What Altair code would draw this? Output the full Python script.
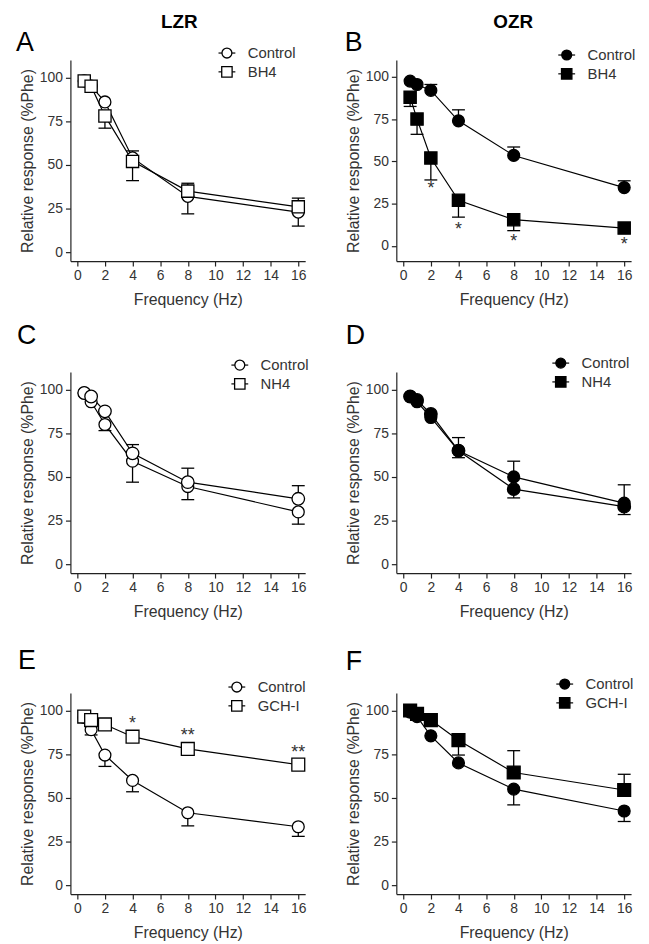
import altair as alt
import pandas as pd
import numpy as np

FONT = "Liberation Sans"
TXT = "#333333"

freq = [0.5, 1, 2, 4, 8, 16]
x_ticks = [0, 2, 4, 6, 8, 10, 12, 14, 16]
y_ticks = [0, 25, 50, 75, 100]

# Panel A  (LZR, BH4)
a_ctrl = [98, 95, 86, 54, 32, 23]
a_ctrl_err = [None, None, None, 58, 22, 15]
a_trt = [98, 95, 78, 52, 35, 26]
a_trt_err = [None, None, 71, 41, 39.5, 31]

# Panel B  (OZR, BH4)
b_ctrl = [97.5, 95.5, 92, 74, 53.5, 34.5]
b_ctrl_err = [None, None, 95.5, 80.5, 58.5, 38.5]
b_trt = [88, 75, 52, 27, 15.5, 10.5]
b_trt_err = [82.5, 66, 39, 17, 9, None]
b_star_f = [2, 4, 8, 16]
b_star_y = [36.5, 12, 5, 3.3]
b_star_t = ["*", "*", "*", "*"]

# Panel C  (LZR, NH4)
c_ctrl = [98, 93, 80, 59, 44.5, 30]
c_ctrl_err = [None, None, 76.5, 47, 37, 23]
c_trt = [98, 96, 87.5, 63.5, 47, 37.5]
c_trt_err = [None, None, None, 68.5, 55, 45]

# Panel D  (OZR, NH4)
d_ctrl = [96, 93, 84, 65, 50, 35]
d_ctrl_err = [None, None, None, 72.5, 59, 45.5]
d_trt = [96, 94, 86, 65, 43, 33]
d_trt_err = [None, None, None, 61, 38, 28.5]

# Panel E  (LZR, GCH-I)
e_ctrl = [96, 89, 74.5, 60, 41.5, 33.5]
e_ctrl_err = [None, 86, 68, 53.5, 34, 28]
e_trt = [96.5, 94.5, 92, 85, 78, 69]
e_trt_err = [None, None, None, None, None, None]
e_star_f = [4, 8, 16]
e_star_y = [94.8, 88, 78.7]
e_star_t = ["*", "**", "**"]

# Panel F  (OZR, GCH-I)
f_ctrl = [99, 96.5, 85.5, 70, 55, 42.5]
f_ctrl_err = [None, None, None, None, 46, 36.5]
f_trt = [100, 98, 94.5, 83, 64.5, 54.5]
f_trt_err = [None, None, None, 74.5, 77, 63.5]

W, H = 237, 203


def nan(v):
    return np.nan if v is None else v


def legend_layers(names, fill, cx, cy0, yoff):
    out = []
    shapes = ["circle", "square"]
    sizes = [100, 110]
    for i, name in enumerate(names):
        cy = cy0 + 19 * i + yoff
        one = alt.Chart(pd.DataFrame({"t": [name]}))
        out.append(one.mark_rule(color="black", strokeWidth=1.2).encode(
            x=alt.value(cx - 8.5), x2=alt.value(cx + 8.5), y=alt.value(cy)))
        out.append(one.mark_point(filled=True, fill=fill, stroke="black", strokeWidth=1.3,
                                  opacity=1, shape=shapes[i], size=sizes[i]).encode(
            x=alt.value(cx), y=alt.value(cy)))
        out.append(one.mark_text(font=FONT, fontSize=15, color=TXT, align="left",
                                 baseline="middle").encode(
            text="t:N", x=alt.value(cx + 21), y=alt.value(cy)))
    return out


def panel(letter, letter_x, letter_y, header, header_x, trt_name, filled,
          ctrl, ctrl_err, trt, trt_err, ymin, leg_x, leg_y, extra=0,
          star_f=None, star_y=None, star_t=None):
    df = pd.DataFrame({
        "freq": freq * 2,
        "group": ["Control"] * 6 + [trt_name] * 6,
        "mean": ctrl + trt,
        "err": [nan(v) for v in ctrl_err + trt_err],
    })
    fill = "black" if filled else "white"
    xs = alt.Scale(domain=[-0.5, 16.5], nice=False, zero=False)
    ys = alt.Scale(domain=[ymin, 110], nice=False, zero=False, range=[H + extra, extra])
    xaxis = alt.Axis(values=x_ticks, title="Frequency (Hz)", titlePadding=9,
                     labelFlush=False, format="d")
    yaxis = alt.Axis(values=y_ticks, title="Relative response (%Phe)", titlePadding=4,
                     labelFlush=False, format="d")
    X = alt.X("freq:Q", scale=xs, axis=xaxis)
    Ym = alt.Y("mean:Q", scale=ys, axis=yaxis)
    Ye = alt.Y("err:Q", scale=ys, axis=yaxis)

    base = alt.Chart(df)
    errs = base.transform_filter("isValid(datum.err)")
    rules = errs.mark_rule(color="black", strokeWidth=1.3).encode(x=X, y=Ym, y2="err:Q")
    caps = errs.mark_tick(color="black", orient="horizontal", size=13, thickness=1.3,
                          opacity=1).encode(x=X, y=Ye)
    lines = base.mark_line(color="black", strokeWidth=1.2).encode(x=X, y=Ym, detail="group:N")
    pts = base.mark_point(filled=True, fill=fill, stroke="black", strokeWidth=1.3,
                          opacity=1).encode(
        x=X, y=Ym,
        shape=alt.Shape("group:N", scale=alt.Scale(domain=["Control", trt_name],
                                                   range=["circle", "square"]), legend=None),
        size=alt.Size("group:N", scale=alt.Scale(domain=["Control", trt_name],
                                                 range=[144, 169]), legend=None),
    )
    layers = [rules, caps, lines, pts]
    if star_f is not None:
        sdf = pd.DataFrame({"freq": star_f, "err": star_y, "t": star_t})
        stars = alt.Chart(sdf).mark_text(font=FONT, fontSize=18, color=TXT,
                                         baseline="middle", dy=5).encode(
            x=X, y=Ye, text="t:N")
        layers.append(stars)
    layers += legend_layers(["Control", trt_name], fill, leg_x, leg_y, extra)
    ldf = pd.DataFrame({"t": [letter]})
    lab = alt.Chart(ldf).mark_text(font=FONT, fontSize=27, color="black", align="left",
                                   baseline="alphabetic").encode(
        text="t:N", x=alt.value(letter_x), y=alt.value(letter_y + extra))
    layers.append(lab)
    if header is not None:
        hdf = pd.DataFrame({"t": [header]})
        hd = alt.Chart(hdf).mark_text(font=FONT, fontSize=19, fontWeight="bold",
                                      color="black", align="center",
                                      baseline="middle").encode(
            text="t:N", x=alt.value(header_x), y=alt.value(-38 + extra))
        layers.append(hd)
    return alt.layer(*layers).properties(width=W, height=H + extra)


pA = panel("A", -55, -9, "LZR", 110, "BH4", False, a_ctrl, a_ctrl_err, a_trt, a_trt_err,
           -5, 158, -7)
pB = panel("B", -52, -9, "OZR", 118, "BH4", True, b_ctrl, b_ctrl_err, b_trt, b_trt_err,
           -9, 172, -5, 0, b_star_f, b_star_y, b_star_t)
pC = panel("C", -54, -28, None, 0, "NH4", False, c_ctrl, c_ctrl_err, c_trt, c_trt_err,
           -5, 171, -7)
pD = panel("D", -51, -28, None, 0, "NH4", True, d_ctrl, d_ctrl_err, d_trt, d_trt_err,
           -5, 166, -9)
pE = panel("E", -53, -24, None, 0, "GCH-I", False, e_ctrl, e_ctrl_err, e_trt, e_trt_err,
           -5, 168, -6, 9, e_star_f, e_star_y, e_star_t)
pF = panel("F", -51, -23, None, 0, "GCH-I", True, f_ctrl, f_ctrl_err, f_trt, f_trt_err,
           -5, 170, -9, 9)

chart = alt.concat(pA, pB, pC, pD, pE, pF, columns=2, align="each",
                   spacing={"row": 112, "column": 92}, bounds="flush").properties(
    padding={"left": 8, "top": 1, "right": 5, "bottom": 5}
).configure_axis(
    labelFont=FONT, labelFontSize=14, labelColor=TXT,
    titleFont=FONT, titleFontSize=16, titleColor=TXT, titleFontWeight="normal",
    domainColor="#222222", tickColor="#222222", domainWidth=1.2, tickWidth=1.2,
    tickSize=5, labelPadding=3, grid=False,
).configure_view(stroke=None)

chart.save("out.html", embed_options={"renderer": "svg", "actions": False})
